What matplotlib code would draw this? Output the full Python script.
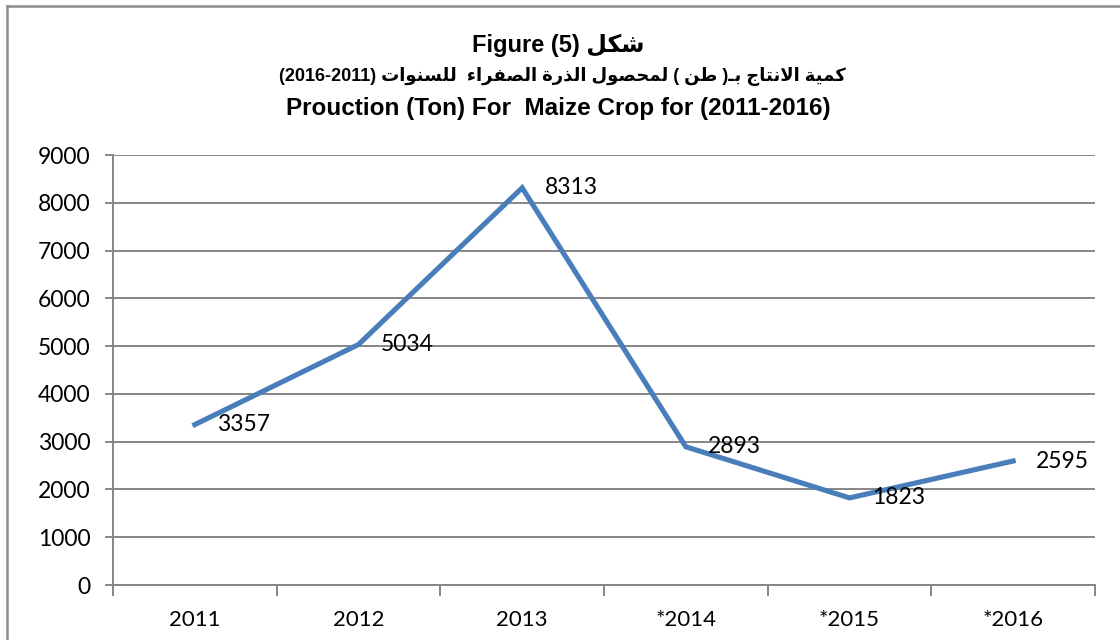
import numpy as np
import matplotlib
matplotlib.use("Agg")
import matplotlib.pyplot as plt
from matplotlib.lines import Line2D

# data
years = ["2011", "2012", "2013", "*2014", "*2015", "*2016"]
production = [3357, 5034, 8313, 2893, 1823, 2595]
yticks = [0, 1000, 2000, 3000, 4000, 5000, 6000, 7000, 8000, 9000]

# minimal arabic shaping (matplotlib has no bidi / joining support)
# forms: isolated, final, initial, medial
FORMS = {
    'ء': ('\uFE80', None, None, None),
    'ا': ('\uFE8D', '\uFE8E', None, None),
    'ب': ('\uFE8F', '\uFE90', '\uFE91', '\uFE92'),
    'ة': ('\uFE93', '\uFE94', None, None),
    'ت': ('\uFE95', '\uFE96', '\uFE97', '\uFE98'),
    'ج': ('\uFE9D', '\uFE9E', '\uFE9F', '\uFEA0'),
    'ح': ('\uFEA1', '\uFEA2', '\uFEA3', '\uFEA4'),
    'ذ': ('\uFEAB', '\uFEAC', None, None),
    'ر': ('\uFEAD', '\uFEAE', None, None),
    'س': ('\uFEB1', '\uFEB2', '\uFEB3', '\uFEB4'),
    'ش': ('\uFEB5', '\uFEB6', '\uFEB7', '\uFEB8'),
    'ص': ('\uFEB9', '\uFEBA', '\uFEBB', '\uFEBC'),
    'ط': ('\uFEC1', '\uFEC2', '\uFEC3', '\uFEC4'),
    'ف': ('\uFED1', '\uFED2', '\uFED3', '\uFED4'),
    'ك': ('\uFED9', '\uFEDA', '\uFEDB', '\uFEDC'),
    'ل': ('\uFEDD', '\uFEDE', '\uFEDF', '\uFEE0'),
    'م': ('\uFEE1', '\uFEE2', '\uFEE3', '\uFEE4'),
    'ن': ('\uFEE5', '\uFEE6', '\uFEE7', '\uFEE8'),
    'و': ('\uFEED', '\uFEEE', None, None),
    'ي': ('\uFEF1', '\uFEF2', '\uFEF3', '\uFEF4'),
}
TATWEEL = '\u0640'


def joins_right(c):
    return c == TATWEEL or (c in FORMS and FORMS[c][1] is not None)


def dual(c):
    return c == TATWEEL or (c in FORMS and FORMS[c][2] is not None)


def shape(word):
    out = []
    prev_link = False
    i = 0
    while i < len(word):
        c = word[i]
        nxt = word[i + 1] if i + 1 < len(word) else ''
        if c == 'ل' and nxt == 'ا':
            out.append('\uFEFC' if prev_link else '\uFEFB')
            prev_link = False
            i += 2
            continue
        if c == TATWEEL:
            out.append(c)
            prev_link = True
            i += 1
            continue
        if c not in FORMS:
            out.append(c)
            prev_link = False
            i += 1
            continue
        right = prev_link and joins_right(c)
        left = dual(c) and joins_right(nxt)
        f = FORMS[c]
        if right and left:
            g = f[3]
        elif right:
            g = f[1]
        elif left:
            g = f[2]
        else:
            g = f[0]
        out.append(g)
        prev_link = left
        i += 1
    return ''.join(reversed(out))


line1 = "Figure (5) " + shape("شكل")
line2 = ("(2016-2011) " + shape("للسنوات") + "  " + shape("الصفراء") + " "
         + shape("الذرة") + " " + shape("لمحصول") + " ( " + shape("طن") + " )"
         + shape("بـ") + " " + shape("الانتاج") + " " + shape("كمية"))
line3 = "Prouction (Ton) For  Maize Crop for (2011-2016)"

W, H = 1120, 640
fig = plt.figure(figsize=(W / 100, H / 100), dpi=100)
ax = fig.add_axes([113 / W, 1 - 585 / H, (1095 - 113) / W, (585 - 155) / H])

grey = "#868686"
x = np.arange(len(years))
ax.plot(x, production, color="#4a7ebb", lw=3.7, solid_joinstyle="miter", zorder=3)

for xi, v in zip(x, production):
    ax.annotate(str(v), (xi, v), xytext=(16, 0), textcoords="offset points",
                ha="left", va="center", fontsize=16.5, family="Lato", color="black")

ax.set_xlim(-0.5, len(years) - 0.5)
ax.set_ylim(0, 9000)
ax.set_yticks(yticks)
ax.set_yticklabels([str(t) for t in yticks], fontsize=16.5, family="Lato")
ax.yaxis.grid(True, color=grey, lw=1.4)
ax.set_axisbelow(True)

ax.set_xticks(np.arange(-0.5, len(years), 1.0))
ax.set_xticklabels([])
ax.set_xticks(x, minor=True)
ax.set_xticklabels(years, minor=True, fontsize=16, family="Lato")
ax.tick_params(axis="x", which="minor", length=0, pad=18)
ax.tick_params(axis="x", which="major", length=8, width=1.4, color=grey)
ax.tick_params(axis="y", length=6, width=1.4, color=grey, pad=10)

for s in ["top", "right"]:
    ax.spines[s].set_visible(False)
for s in ["left", "bottom"]:
    ax.spines[s].set_color(grey)
    ax.spines[s].set_linewidth(1.4)

# outer chart border (top and left visible)
fig.add_artist(Line2D([7 / W, 7 / W], [0, 1 - 6 / H], color="#8c8c8c", lw=1.8, transform=fig.transFigure))
fig.add_artist(Line2D([7 / W, 1], [1 - 6 / H, 1 - 6 / H], color="#8c8c8c", lw=1.8, transform=fig.transFigure))

tfam = ["Liberation Sans", "DejaVu Sans"]
cx = 558 / W
fig.text(cx, 1 - 45 / H, line1, ha="center", va="center", fontsize=17, weight="bold", family=tfam)
fig.text(cx + 4 / W, 1 - 77 / H, line2, ha="center", va="center", fontsize=13, weight="bold", family=tfam)
fig.text(cx, 1 - 108 / H, line3, ha="center", va="center", fontsize=17.5, weight="bold", family=tfam)

fig.savefig("out.png", dpi=100)
